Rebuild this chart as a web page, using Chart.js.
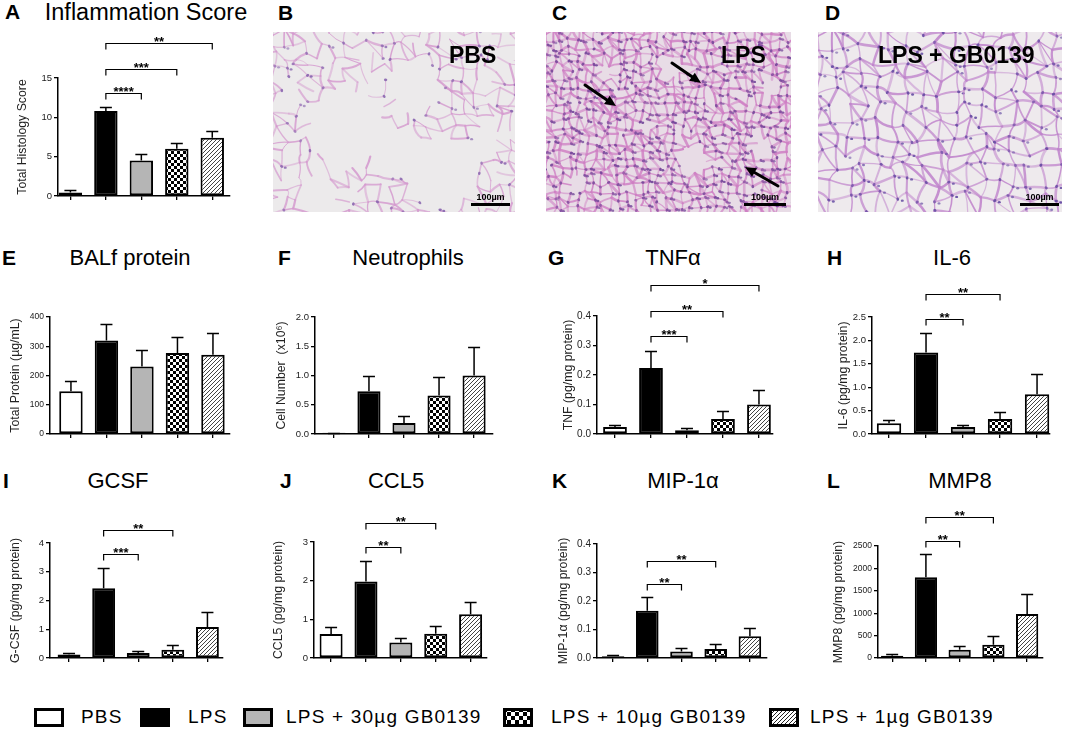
<!DOCTYPE html>
<html><head><meta charset="utf-8">
<script src="https://cdn.jsdelivr.net/npm/chart.js@4.4.1/dist/chart.umd.min.js"></script>
<style>
html,body{margin:0;padding:0;background:#fff;width:1065px;height:732px;overflow:hidden;position:relative;font-family:"Liberation Sans",Arial,Helvetica,sans-serif;}
canvas{position:absolute;}
.letter{position:absolute;font-weight:bold;font-size:21px;line-height:24px;color:#000;white-space:nowrap;}
.ptitle{position:absolute;font-size:22px;line-height:26px;color:#000;white-space:nowrap;transform:translateX(-50%);}
.leg{position:absolute;font-size:19px;line-height:22px;letter-spacing:1.2px;white-space:nowrap;color:#000;}
.imglab{position:absolute;font-weight:bold;font-size:23px;line-height:26px;color:#000;white-space:nowrap;}
.scl{position:absolute;font-weight:bold;font-size:9px;line-height:10px;color:#000;white-space:nowrap;transform:translateX(-50%);}
</style></head><body>
<script>
// ---------------- data ----------------
const categories = ['PBS', 'LPS', 'LPS + 30µg GB0139', 'LPS + 10µg GB0139', 'LPS + 1µg GB0139'];

const inflammationMean = [0.45, 10.8, 4.5, 6.0, 7.4];
const inflammationErr  = [0.75, 11.3, 5.4, 6.8, 8.3];
const inflammationSig  = [[1, 2, 13.1, '****'], [1, 3, 16.2, '***'], [1, 4, 19.5, '**']];
const inflammationTicks = [0, 5, 10, 15];

const balfMean = [146, 320, 231, 277, 271];
const balfErr  = [180, 375, 288, 331, 345];
const balfTicks = [0, 100, 200, 300, 400];

const neutroMean = [0.02, 0.73, 0.19, 0.66, 1.0];
const neutroErr  = [0.02, 1.0, 0.31, 0.97, 1.48];
const neutroTicks = [0, 0.5, 1.0, 1.5, 2.0];

const tnfMean = [0.024, 0.224, 0.013, 0.051, 0.100];
const tnfErr  = [0.032, 0.281, 0.019, 0.078, 0.148];
const tnfSig  = [[1, 2, 0.331, '***'], [1, 3, 0.418, '**'], [1, 4, 0.506, '*']];
const tnfTicks = [0, 0.1, 0.2, 0.3, 0.4];

const il6Mean = [0.23, 1.74, 0.15, 0.32, 0.85];
const il6Err  = [0.30, 2.15, 0.20, 0.46, 1.28];
const il6Sig  = [[1, 2, 2.45, '**'], [1, 3, 2.99, '**']];
const il6Ticks = [0, 0.5, 1.0, 1.5, 2.0, 2.5];

const gcsfMean = [0.12, 2.43, 0.17, 0.29, 1.08];
const gcsfErr  = [0.17, 3.13, 0.25, 0.44, 1.60];
const gcsfSig  = [[1, 2, 3.62, '***'], [1, 3, 4.46, '**']];
const gcsfTicks = [0, 1, 2, 3, 4];

const ccl5Mean = [0.62, 1.98, 0.40, 0.63, 1.13];
const ccl5Err  = [0.79, 2.52, 0.52, 0.84, 1.45];
const ccl5Sig  = [[1, 2, 2.86, '**'], [1, 3, 3.49, '**']];
const ccl5Ticks = [0, 1, 2, 3];

const mipMean = [0.006, 0.166, 0.023, 0.032, 0.076];
const mipErr  = [0.009, 0.214, 0.035, 0.050, 0.106];
const mipSig  = [[1, 2, 0.26, '**'], [1, 3, 0.342, '**']];
const mipTicks = [0, 0.1, 0.2, 0.3, 0.4];

const mmp8Mean = [52, 1805, 185, 296, 984];
const mmp8Err  = [81, 2330, 274, 488, 1420];
const mmp8Sig  = [[1, 2, 2604, '**'], [1, 3, 3143, '**']];
const mmp8Ticks = [0, 500, 1000, 1500, 2000, 2500];

// ---------------- styles ----------------
const FONT = '"Liberation Sans", Arial, Helvetica, sans-serif';
Chart.defaults.font.family = FONT;

function makeChecker(sz) {
  const c = document.createElement('canvas'); c.width = c.height = sz * 2;
  const g = c.getContext('2d');
  g.fillStyle = '#fff'; g.fillRect(0, 0, sz * 2, sz * 2);
  g.fillStyle = '#000'; g.fillRect(0, 0, sz, sz); g.fillRect(sz, sz, sz, sz);
  return g.createPattern(c, 'repeat');
}
function makeHatch(sp, col) {
  const c = document.createElement('canvas'); c.width = c.height = sp;
  const g = c.getContext('2d');
  g.fillStyle = '#fff'; g.fillRect(0, 0, sp, sp);
  g.strokeStyle = col; g.lineWidth = 1;
  g.beginPath();
  g.moveTo(-1, sp + 1); g.lineTo(sp + 1, -1);
  g.moveTo(-1, 1); g.lineTo(1, -1);
  g.moveTo(sp - 1, sp + 1); g.lineTo(sp + 1, sp - 1);
  g.stroke();
  return g.createPattern(c, 'repeat');
}
const fills = ['#ffffff', '#000000', '#b5b5b5', makeChecker(3), makeHatch(4, '#444')];

// error bars + significance brackets
const annot = {
  id: 'annot',
  afterDatasetsDraw(chart, args, opts) {
    const { ctx } = chart; const x = chart.scales.x, y = chart.scales.y;
    const meta = chart.getDatasetMeta(0);
    ctx.save();
    ctx.strokeStyle = '#000'; ctx.lineWidth = 1.5;
    meta.data.forEach((bar, i) => {
      const top = Math.round(y.getPixelForValue(opts.err[i])) + 0.5;
      const w = 6;
      ctx.beginPath();
      ctx.moveTo(bar.x, bar.y); ctx.lineTo(bar.x, top);
      ctx.moveTo(bar.x - w, top); ctx.lineTo(bar.x + w, top);
      ctx.stroke();
    });
    ctx.lineWidth = 1.2;
    ctx.fillStyle = '#000';
    ctx.font = 'bold 13px ' + FONT;
    ctx.textAlign = 'center'; ctx.textBaseline = 'alphabetic';
    (opts.sig || []).forEach(s => {
      const x1 = x.getPixelForValue(s[0]), x2 = x.getPixelForValue(s[1]);
      const yy = Math.round(y.getPixelForValue(s[2])) + 0.5;
      ctx.beginPath();
      ctx.moveTo(x1, yy + 6); ctx.lineTo(x1, yy); ctx.lineTo(x2, yy); ctx.lineTo(x2, yy + 6);
      ctx.stroke();
      ctx.fillText(s[3], (x1 + x2) / 2, yy + 2);
    });
    ctx.restore();
  }
};

function addText(cls, txt, left, top, size) {
  const d = document.createElement('div'); d.className = cls; d.textContent = txt;
  d.style.left = left + 'px'; d.style.top = top + 'px';
  if (size) d.style.fontSize = size + 'px';
  document.body.appendChild(d); return d;
}

function panel(cfg) {
  const left = cfg.titleX - 7, top = cfg.top;
  const right = cfg.xRight + 8, bottom = cfg.yZero + 14;
  const cv = document.createElement('canvas');
  cv.width = right - left; cv.height = bottom - top;
  cv.style.left = left + 'px'; cv.style.top = top + 'px';
  cv.style.width = (right - left) + 'px'; cv.style.height = (bottom - top) + 'px';
  document.body.appendChild(cv);
  const ticks = cfg.ticks;
  new Chart(cv, {
    type: 'bar',
    data: {
      labels: categories,
      datasets: [{
        data: cfg.mean.map((v, i) => ({ x: i, y: v })),
        backgroundColor: fills, borderColor: '#000', borderWidth: 2, borderSkipped: false,
        barPercentage: 0.66, categoryPercentage: 1
      }]
    },
    options: {
      responsive: false, animation: false, devicePixelRatio: 1,
      layout: { padding: { top: cfg.yTop - top, right: right - cfg.xRight, left: 0, bottom: 0 }, autoPadding: false },
      plugins: { legend: { display: false }, tooltip: { enabled: false }, annot: { err: cfg.err, sig: cfg.sig } },
      scales: {
        x: {
          type: 'linear', min: cfg.xmin, max: cfg.xmax, offset: false,
          afterBuildTicks: ax => { ax.ticks = categories.map((c, i) => ({ value: i })); },
          ticks: { callback: () => '', padding: 0 },
          grid: { offset: false, drawOnChartArea: false, drawTicks: true, tickLength: 4, color: '#000', lineWidth: 1.3 },
          border: { color: '#000', width: 1.5 },
          afterFit: ax => { ax.height = bottom - cfg.yZero; }
        },
        y: {
          min: 0, max: ticks[ticks.length - 1],
          afterBuildTicks: ax => { ax.ticks = ticks.map(v => ({ value: v })); },
          ticks: { font: { size: cfg.tickSize }, color: '#222', padding: 2,
                   callback: v => cfg.dec ? Number(v).toFixed(cfg.dec) : String(Math.round(v)) },
          grid: { drawOnChartArea: false, drawTicks: true, tickLength: 4, color: '#000', lineWidth: 1.3 },
          border: { color: '#000', width: 1.5 },
          title: { display: true, text: cfg.ytitle, font: { size: 12.3 }, color: '#222', padding: 0 },
          afterFit: ax => { ax.width = cfg.axisX - left; }
        }
      }
    },
    plugins: [annot]
  });
  addText('letter', cfg.letter, cfg.letterX, cfg.rowY - 11.5);
  addText('ptitle', cfg.title, cfg.titleCX, cfg.rowY - 12.4, cfg.titleSize);
}

// ---------------- panels ----------------
const row1 = 11, row2 = 257, row3 = 480;
panel({ letter: 'A', letterX: 5, rowY: row1, title: 'Inflammation Score', titleCX: 146, titleSize: 23.5, ytitle: 'Total Histology Score',
  mean: inflammationMean, err: inflammationErr, sig: inflammationSig, ticks: inflammationTicks, dec: 0, tickSize: 9.5,
  titleX: 22, axisX: 58, top: 25, yTop: 78, yZero: 196, xRight: 230, xmin: -0.35, xmax: 4.5 });
panel({ letter: 'E', letterX: 2, rowY: row2, title: 'BALf protein', titleCX: 130, ytitle: 'Total Protein (µg/mL)',
  mean: balfMean, err: balfErr, sig: [], ticks: balfTicks, dec: 0, tickSize: 8.5,
  titleX: 15, axisX: 50, top: 272, yTop: 317, yZero: 434, xRight: 230, xmin: -0.59, xmax: 4.48 });
panel({ letter: 'F', letterX: 278, rowY: row2, title: 'Neutrophils', titleCX: 408, ytitle: 'Cell Number  (x10⁶)',
  mean: neutroMean, err: neutroErr, sig: [], ticks: neutroTicks, dec: 1, tickSize: 9.5,
  titleX: 281, axisX: 315, top: 272, yTop: 317, yZero: 434, xRight: 493, xmin: -0.54, xmax: 4.54 });
panel({ letter: 'G', letterX: 548, rowY: row2, title: 'TNFα', titleCX: 673, ytitle: 'TNF (pg/mg protein)',
  mean: tnfMean, err: tnfErr, sig: tnfSig, ticks: tnfTicks, dec: 1, tickSize: 10,
  titleX: 568, axisX: 597, top: 272, yTop: 316, yZero: 434, xRight: 773, xmin: -0.5, xmax: 4.39 });
panel({ letter: 'H', letterX: 827, rowY: row2, title: 'IL-6', titleCX: 952, ytitle: 'IL-6 (pg/mg protein)',
  mean: il6Mean, err: il6Err, sig: il6Sig, ticks: il6Ticks, dec: 1, tickSize: 9.5,
  titleX: 843, axisX: 872, top: 272, yTop: 317, yZero: 434, xRight: 1050, xmin: -0.46, xmax: 4.35 });
panel({ letter: 'I', letterX: 3, rowY: row3, title: 'GCSF', titleCX: 118, ytitle: 'G-CSF (pg/mg protein)',
  mean: gcsfMean, err: gcsfErr, sig: gcsfSig, ticks: gcsfTicks, dec: 0, tickSize: 9.5,
  titleX: 15, axisX: 50, top: 495, yTop: 543, yZero: 658, xRight: 223, xmin: -0.55, xmax: 4.45 });
panel({ letter: 'J', letterX: 280, rowY: row3, title: 'CCL5', titleCX: 396, ytitle: 'CCL5 (pg/mg protein)',
  mean: ccl5Mean, err: ccl5Err, sig: ccl5Sig, ticks: ccl5Ticks, dec: 0, tickSize: 9.5,
  titleX: 278, axisX: 314, top: 495, yTop: 542, yZero: 658, xRight: 487, xmin: -0.49, xmax: 4.47 });
panel({ letter: 'K', letterX: 552, rowY: row3, title: 'MIP-1α', titleCX: 683, ytitle: 'MIP-1α (pg/mg protein)',
  mean: mipMean, err: mipErr, sig: mipSig, ticks: mipTicks, dec: 1, tickSize: 10,
  titleX: 563, axisX: 597, top: 495, yTop: 544, yZero: 658, xRight: 767, xmin: -0.47, xmax: 4.5 });
panel({ letter: 'L', letterX: 827, rowY: row3, title: 'MMP8', titleCX: 960, ytitle: 'MMP8 (pg/mg protein)',
  mean: mmp8Mean, err: mmp8Err, sig: mmp8Sig, ticks: mmp8Ticks, dec: 0, tickSize: 8.5,
  titleX: 838, axisX: 878, top: 495, yTop: 546, yZero: 658, xRight: 1043, xmin: -0.42, xmax: 4.47 });

// ---------------- histology micrographs (decorative) ----------------
function hsh(a, b, c) { const s = Math.sin(a * 127.1 + b * 311.7 + c * 74.7) * 43758.5453; return s - Math.floor(s); }
function tissue(left, top, w, h, p) {
  const cv = document.createElement('canvas'); cv.width = w; cv.height = h;
  cv.style.left = left + 'px'; cv.style.top = top + 'px';
  document.body.appendChild(cv);
  const g = cv.getContext('2d');
  g.fillStyle = p.bg; g.fillRect(0, 0, w, h);
  g.filter = 'blur(0.5px)';
  const sp = p.sp;
  const inHole = (x, y) => p.holes.some(hl => ((x - hl[0]) ** 2 + (y - hl[1]) ** 2) < hl[2] * hl[2]);
  const pt = (gx, gy) => [gx * sp + (hsh(gx, gy, 1) - 0.5) * sp * 0.8, gy * sp + (hsh(gx, gy, 2) - 0.5) * sp * 0.8];
  g.lineCap = 'round';
  for (let gy = -1; gy < h / sp + 2; gy++) {
    for (let gx = -1; gx < w / sp + 2; gx++) {
      const a = pt(gx, gy);
      const nbs = [[1, 0, 3], [0, 1, 4], [1, 1, 5]];
      nbs.forEach(([dx, dy, k]) => {
        if (dx && dy && hsh(gx, gy, 30) > 0.35) return;
        const b = pt(gx + dx, gy + dy);
        const mx = (a[0] + b[0]) / 2, my = (a[1] + b[1]) / 2;
        if (inHole(mx, my) || hsh(gx, gy, k) > p.dens) return;
        g.strokeStyle = p.stroke; g.globalAlpha = 0.45 + 0.45 * hsh(gx, gy, k + 10);
        g.lineWidth = p.lw * (0.6 + 0.8 * hsh(gx, gy, k + 20));
        g.beginPath(); g.moveTo(a[0], a[1]);
        g.quadraticCurveTo(mx + (hsh(gx, gy, k + 40) - 0.5) * sp * 0.4, my + (hsh(gx, gy, k + 50) - 0.5) * sp * 0.4, b[0], b[1]);
        g.stroke();
      });
      if (!inHole(a[0], a[1]) && hsh(gx, gy, 9) < p.nuc) {
        g.fillStyle = p.nucCol; g.globalAlpha = 0.55 + 0.4 * hsh(gx, gy, 11);
        g.beginPath(); g.ellipse(a[0], a[1], 1.7, 1.3, hsh(gx, gy, 12) * 3, 0, Math.PI * 2); g.fill();
        if (hsh(gx, gy, 13) < p.nuc * 0.6) {
          g.beginPath(); g.ellipse(a[0] + sp * 0.3, a[1] + sp * 0.1, 1.5, 1.2, 0, 0, Math.PI * 2); g.fill();
        }
      }
    }
  }
  g.filter = 'none';
  g.globalAlpha = 1;
  return g;
}
tissue(273, 32, 242, 180, { bg: '#eceaeb', sp: 12, dens: 0.62, lw: 1.6, stroke: '#d59bcf', nuc: 0.35, nucCol: '#8a68b0',
  holes: [[75, 95, 40], [140, 55, 28], [168, 140, 36], [45, 165, 20], [120, 118, 26], [212, 108, 16], [10, 70, 10]] });
const gc = tissue(546, 32, 245, 180, { bg: '#e8dce6', sp: 8, dens: 0.9, lw: 2.0, stroke: '#cf80c4', nuc: 0.75, nucCol: '#74499a',
  holes: [[125, 35, 12], [215, 115, 10], [148, 128, 15], [30, 150, 9], [225, 55, 9], [60, 40, 8], [100, 95, 7]] });
tissue(818, 32, 244, 180, { bg: '#eeeaed', sp: 15, dens: 0.97, lw: 2.0, stroke: '#c085cc', nuc: 0.75, nucCol: '#664ea3',
  holes: [] });

// arrows in panel C (canvas-local coordinates)
function arrow(g, x1, y1, x2, y2) {
  g.strokeStyle = '#000'; g.fillStyle = '#000'; g.lineWidth = 3; g.globalAlpha = 1;
  const a = Math.atan2(y2 - y1, x2 - x1);
  g.beginPath(); g.moveTo(x1, y1); g.lineTo(x2 - 6 * Math.cos(a), y2 - 6 * Math.sin(a)); g.stroke();
  g.beginPath(); g.moveTo(x2, y2);
  g.lineTo(x2 - 11 * Math.cos(a) + 5 * Math.sin(a), y2 - 11 * Math.sin(a) - 5 * Math.cos(a));
  g.lineTo(x2 - 11 * Math.cos(a) - 5 * Math.sin(a), y2 - 11 * Math.sin(a) + 5 * Math.cos(a));
  g.closePath(); g.fill();
}
arrow(gc, 585 - 546, 85 - 32, 616 - 546, 106 - 32);
arrow(gc, 672 - 546, 63 - 32, 701 - 546, 83 - 32);
arrow(gc, 778 - 546, 186 - 32, 745 - 546, 167 - 32);

// scale bars
[[471, 510], [744, 786], [1020, 1059]].forEach(([a, b]) => {
  const d = document.createElement('div');
  d.style.cssText = `position:absolute;left:${a}px;top:203px;width:${b - a}px;height:3px;background:#000;`;
  document.body.appendChild(d);
  addText('scl', '100µm', (a + b) / 2, 192);
});
addText('letter', 'B', 278, 1);
addText('letter', 'C', 552, 1);
addText('letter', 'D', 825, 1);
addText('imglab', 'PBS', 449, 42);
addText('imglab', 'LPS', 721, 42);
addText('imglab', 'LPS + GB0139', 878, 42);

// ---------------- legend ----------------
const legBoxX = [34, 140, 243, 503, 769];
const legTextX = [81, 188, 286, 551, 810];
const legFills = ['#ffffff', '#000000', '#b5b5b5', makeChecker(4), makeHatch(4, '#222')];
categories.forEach((c, i) => {
  const cv = document.createElement('canvas'); cv.width = 30; cv.height = 19;
  cv.style.left = legBoxX[i] + 'px'; cv.style.top = '708px';
  document.body.appendChild(cv);
  const g = cv.getContext('2d');
  g.fillStyle = legFills[i]; g.fillRect(0, 0, 30, 19);
  g.strokeStyle = '#000'; g.lineWidth = 3; g.strokeRect(1.5, 1.5, 27, 16);
  addText('leg', c, legTextX[i], 706);
});
</script>
</body></html>
